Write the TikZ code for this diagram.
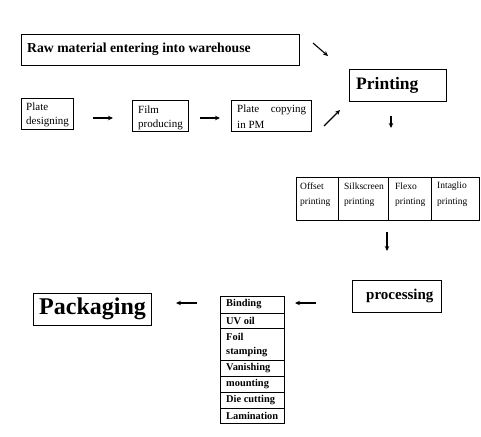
\documentclass[tikz,border=0pt]{standalone}
\usepackage{fontspec}
\setmainfont{Liberation Serif}
\usetikzlibrary{arrows.meta}
\begin{document}
\begin{tikzpicture}[x=1pt,y=-1pt,
  box/.style={draw,line width=0.9pt},
  flow/.style={line width=1.1pt,-{Stealth[length=5pt,width=4.5pt]}},
  small/.style={font=\fontsize{9.5}{11}\selectfont,anchor=west,inner sep=0pt},
  top/.style={font=\fontsize{11}{12}\selectfont,anchor=west,inner sep=0pt},
  smallb/.style={font=\fontsize{10.4}{12}\bfseries\selectfont,anchor=west,inner sep=0pt}]
\useasboundingbox (0,0) rectangle (481,436);
% Raw material
\draw[box] (21,34) rectangle (299,65);
\node[anchor=west,inner sep=0pt,font=\fontsize{13.7}{15}\bfseries\selectfont] (raw) at (27,49.5) {Raw material entering into warehouse};
% Printing
\draw[box] (349,69) rectangle (446,101);
\node[anchor=west,inner sep=0pt,font=\fontsize{17.5}{19}\bfseries\selectfont] (print) at (356,85) {Printing};
% top row
\draw[box] (21,98) rectangle (73,129);
\node[top] (pd1) at (26,107) {Plate};
\node[top] (pd2) at (26,122) {designing};
\draw[box] (132,100) rectangle (188,131);
\node[top] (fp1) at (138,110) {Film};
\node[top] (fp2) at (138,125) {producing};
\draw[box] (231,100) rectangle (311,131);
\node[top,text width=69pt,align=justify] (pc1) at (237,110) {Plate\hfill copying};
\node[top] (pc2) at (237,125) {in PM};
% arrows top
\coordinate (a1s) at (313,43); \coordinate (a1e) at (328,56);
\draw[flow] (a1s) -- (a1e);
\coordinate (a2s) at (93,118); \coordinate (a2e) at (113,118);
\draw[flow] (a2s) -- (a2e);
\coordinate (a3s) at (200,118); \coordinate (a3e) at (220,118);
\draw[flow] (a3s) -- (a3e);
\coordinate (a4s) at (324,126); \coordinate (a4e) at (340,110);
\draw[flow] (a4s) -- (a4e);
\coordinate (a5s) at (391,116); \coordinate (a5e) at (391,128);
\draw[flow] (a5s) -- (a5e);
% table
\draw[box] (296,177) rectangle (479,220);
\draw[box] (338,177) -- (338,220);
\draw[box] (388,177) -- (388,220);
\draw[box] (431,177) -- (431,220);
\node[small] (t1a) at (300,186) {Offset};
\node[small] (t1b) at (300,202) {printing};
\node[small] (t2a) at (344,186) {Silkscreen};
\node[small] (t2b) at (344,202) {printing};
\node[small] (t3a) at (395,186) {Flexo};
\node[small] (t3b) at (395,202) {printing};
\node[small] (t4a) at (437,186) {Intaglio};
\node[small] (t4b) at (437,202) {printing};
\coordinate (a6s) at (387,232); \coordinate (a6e) at (387,251);
\draw[flow] (a6s) -- (a6e);
% processing
\draw[box] (352,280) rectangle (441,312);
\node[anchor=west,inner sep=0pt,font=\fontsize{15}{16}\bfseries\selectfont] (proc) at (366,296) {processing};
\coordinate (a7s) at (316,303); \coordinate (a7e) at (295,303);
\draw[flow] (a7s) -- (a7e);
% list
\draw[box] (220,296) rectangle (284,423);
\foreach \yy in {313,328,360,376,392,408} \draw[box] (220,\yy) -- (284,\yy);
\node[smallb] (l1) at (226,304.5) {Binding};
\node[smallb] (l2) at (226,320.5) {UV oil};
\node[smallb] (l3a) at (226,337) {Foil};
\node[smallb] (l3b) at (226,352) {stamping};
\node[smallb] (l4) at (226,368) {Vanishing};
\node[smallb] (l5) at (226,384) {mounting};
\node[smallb] (l6) at (226,400) {Die cutting};
\node[smallb] (l7) at (226,415.5) {Lamination};
\coordinate (a8s) at (197,303); \coordinate (a8e) at (176,303);
\draw[flow] (a8s) -- (a8e);
% packaging
\draw[box] (33,293) rectangle (151,325);
\node[anchor=west,inner sep=0pt,font=\fontsize{24}{26}\bfseries\selectfont] (pack) at (39,309) {Packaging};
\end{tikzpicture}
\end{document}
